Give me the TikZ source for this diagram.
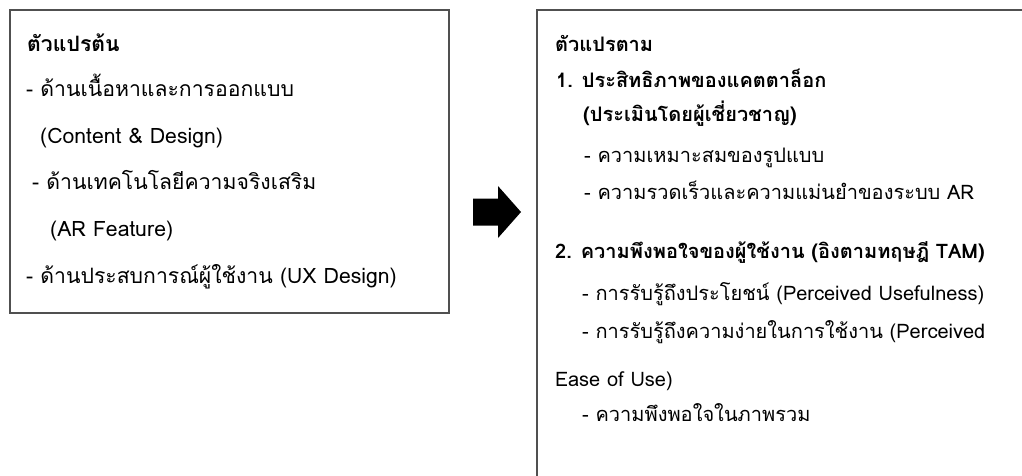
\documentclass[tikz,border=0pt]{standalone}
\usepackage{fontspec}
\setmainfont[Script=Thai]{Loma}
\newfontfamily\thaifont[Script=Thai]{Loma}
\definecolor{boxline}{HTML}{505050}
\begin{document}
\begin{tikzpicture}[x=1pt,y=-1pt,
  boxframe/.style={draw=boxline,line width=1.6pt},
  lefttxt/.style={anchor=base west,inner sep=0pt,font=\thaifont\fontsize{21.2}{24}\selectfont},
  righttxt/.style={anchor=base west,inner sep=0pt,font=\thaifont\fontsize{20}{23}\selectfont}]
\useasboundingbox (0,0) rectangle (1022,475);
\fill[white] (0,0) rectangle (1022,475);
\begin{scope}
\clip (0,0) rectangle (1022,475);
% left box
\draw[boxframe] (10,10) rectangle (449,313);
% right box (runs off the page right and bottom)
\draw[boxframe] (537,485) -- (537,10) -- (1040,10);
% block arrow
\fill[black] (473,198.5) -- (498,198.5) -- (498,186) -- (521,212) -- (498,238) -- (498,225.5) -- (473,225.5) -- cycle;
\end{scope}
% left texts
\node[lefttxt] (l0) at (27,51) {\bfseries ตัวแปรต้น};
\node[lefttxt] (l1) at (26,96) {- ด้านเนื้อหาและการออกแบบ};
\node[lefttxt] (l2) at (40,143) {(Content \& Design)};
\node[lefttxt] (l3) at (32,189) {- ด้านเทคโนโลยีความจริงเสริม};
\node[lefttxt] (l4) at (50,236) {(AR Feature)};
\node[lefttxt] (l5) at (26,283) {- ด้านประสบการณ์ผู้ใช้งาน (UX Design)};
% right texts
\node[righttxt] (r0) at (555,51) {\bfseries ตัวแปรตาม};
\node[righttxt] (r1) at (556,87) {\bfseries 1. ประสิทธิภาพของแคตตาล็อก};
\node[righttxt] (r2) at (583,121) {\bfseries (ประเมินโดยผู้เชี่ยวชาญ)};
\node[righttxt] (r3) at (584,162) {- ความเหมาะสมของรูปแบบ};
\node[righttxt] (r4) at (584,199) {- ความรวดเร็วและความแม่นยำของระบบ AR};
\node[righttxt] (r5) at (555,258) {\bfseries 2. ความพึงพอใจของผู้ใช้งาน (อิงตามทฤษฎี TAM)};
\node[righttxt] (r6) at (582,300) {- การรับรู้ถึงประโยชน์ (Perceived Usefulness)};
\node[righttxt] (r7) at (582,338) {- การรับรู้ถึงความง่ายในการใช้งาน (Perceived};
\node[righttxt] (r8) at (555,386) {Ease of Use)};
\node[righttxt] (r9) at (582,421) {- ความพึงพอใจในภาพรวม};
\end{tikzpicture}
\end{document}
